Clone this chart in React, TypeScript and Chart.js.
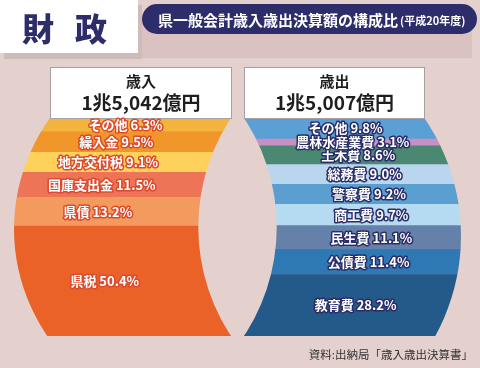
import React, { useEffect, useRef } from "react";
import { Chart, registerables } from "chart.js";

Chart.register(...registerables);

// ---- data ----
const sides = ["歳入", "歳出"];
const totals = ["1兆5,042億円", "1兆5,007億円"];
const revenueItems = ["県税", "県債", "国庫支出金", "地方交付税", "繰入金", "その他"];
const revenueShares = [50.4, 13.2, 11.5, 9.1, 9.5, 6.3];
const expenseItems = ["教育費", "公債費", "民生費", "商工費", "警察費", "総務費", "土木費", "農林水産業費", "その他"];
const expenseShares = [28.2, 11.4, 11.1, 9.7, 9.2, 9.0, 8.6, 3.1, 9.8];
const sectionTitle = ["財", "政"];
const title = "県一般会計歳入歳出決算額の構成比";
const titleNote = "(平成20年度)";
const source = "資料:出納局「歳入歳出決算書」";

// ---- styles ----
const revenueColors = ["#ea6228", "#f39a5e", "#ee7457", "#fdd15a", "#f0962a", "#f2b43c"];
const expenseColors = ["#245a8a", "#2e78b4", "#6681a9", "#b5dbf2", "#5a9fd0", "#b9d6ee", "#4b8872", "#c98fc4", "#5aa0d4"];
const BG = "#e4d0cc";
const NAVY = "#2e2d6b";
const FONT = '"Noto Sans CJK JP", "Noto Sans", sans-serif';

type Geo = ReturnType<typeof geom>;

function geom(chart: any) {
  const a = chart.chartArea;
  const H = a.bottom - a.top;
  const cx = (a.left + a.right) / 2;
  const rx = (a.right - a.left) / 2;
  const my = (a.top + a.bottom) / 2;
  const L = { cy: a.top + H * 0.509, ry: H * 0.936 };
  const R = { cy: a.top + H * 0.541, ry: H * 0.986 };
  const g = H * 0.03;
  const w = H * 0.18;
  const h = H / 2;
  const d = (g * g + h * h - w * w) / (2 * (w - g));
  const r = d + w;
  const sq = (v: number) => Math.sqrt(Math.max(0, v));
  const arcL = (y: number) => cx + d - sq(r * r - (y - my) * (y - my));
  const arcR = (y: number) => cx - d + sq(r * r - (y - my) * (y - my));
  const outL = (y: number) => cx - rx * sq(1 - ((y - L.cy) / L.ry) ** 2);
  const outR = (y: number) => cx + rx * sq(1 - ((y - R.cy) / R.ry) ** 2);
  return { a, H, cx, rx, my, L, R, d, r, arcL, arcR, outL, outR };
}

function roundRect(ctx: CanvasRenderingContext2D, x: number, y: number, w: number, h: number, rad: number) {
  ctx.beginPath();
  ctx.moveTo(x + rad, y);
  ctx.lineTo(x + w - rad, y);
  ctx.arc(x + w - rad, y + rad, rad, -Math.PI / 2, 0);
  ctx.lineTo(x + w, y + h - rad);
  ctx.arc(x + w - rad, y + h - rad, rad, 0, Math.PI / 2);
  ctx.lineTo(x + rad, y + h);
  ctx.arc(x + rad, y + h - rad, rad, Math.PI / 2, Math.PI);
  ctx.lineTo(x, y + rad);
  ctx.arc(x + rad, y + rad, rad, Math.PI, Math.PI * 1.5);
  ctx.closePath();
}

const decorPlugin = {
  id: "decor",
  beforeDraw(chart: any) {
    const ctx: CanvasRenderingContext2D = chart.ctx;
    const W = chart.width;
    ctx.save();
    ctx.fillStyle = BG;
    ctx.fillRect(0, 0, W, chart.height);
    // band behind title
    ctx.fillStyle = "#d9c2c0";
    ctx.fillRect(142, 16, 330, 42);
    // section title box with shadow
    ctx.fillStyle = "#cdbcb9";
    ctx.fillRect(4, 5, 138, 54);
    ctx.fillStyle = "#ffffff";
    ctx.fillRect(0, 0, 138, 53);
    ctx.fillStyle = NAVY;
    ctx.font = `900 32px ${FONT}`;
    ctx.textAlign = "center";
    ctx.textBaseline = "middle";
    ctx.fillText(sectionTitle[0], 38, 29);
    ctx.fillText(sectionTitle[1], 91, 29);
    // title pill
    ctx.fillStyle = NAVY;
    roundRect(ctx, 142, 4, 335, 30, 15);
    ctx.fill();
    ctx.fillStyle = "#ffffff";
    ctx.textAlign = "left";
    ctx.font = `bold 15px ${FONT}`;
    ctx.fillText(title, 158, 20);
    const tw = ctx.measureText(title).width;
    ctx.font = `bold 11px ${FONT}`;
    ctx.fillText(titleNote, 158 + tw + 2, 21);
    // source
    ctx.fillStyle = "#333333";
    ctx.font = `11.5px ${FONT}`;
    ctx.textAlign = "right";
    ctx.fillText(source, 473, 355);
    ctx.restore();
  },
  beforeDatasetsDraw(chart: any) {
    const ctx: CanvasRenderingContext2D = chart.ctx;
    const G: Geo = geom(chart);
    ctx.save();
    ctx.beginPath();
    ctx.ellipse(G.cx, G.L.cy, G.rx, G.L.ry, 0, Math.PI / 2, Math.PI * 1.5, false);
    ctx.ellipse(G.cx, G.R.cy, G.rx, G.R.ry, 0, -Math.PI / 2, Math.PI / 2, false);
    ctx.closePath();
    const s = Math.sqrt(G.r * G.r - G.d * G.d);
    const al = Math.atan2(s, G.d);
    ctx.moveTo(G.cx, G.my - s);
    ctx.arc(G.cx + G.d, G.my, G.r, Math.PI + al, Math.PI - al, true);
    ctx.arc(G.cx - G.d, G.my, G.r, al, -al, true);
    ctx.closePath();
    ctx.clip("evenodd");
  },
  afterDatasetsDraw(chart: any) {
    const ctx: CanvasRenderingContext2D = chart.ctx;
    ctx.restore();
    const G: Geo = geom(chart);
    const top = G.a.top;
    // header boxes
    const boxes = [
      [G.outL(top), G.arcL(top)],
      [G.arcR(top), G.outR(top)],
    ];
    ctx.save();
    boxes.forEach(([x0, x1], i) => {
      const x = Math.round(x0) + 0.5;
      const wd = Math.round(x1 - x0);
      ctx.fillStyle = "#ffffff";
      ctx.fillRect(x, top - 51, wd, 51);
      ctx.strokeStyle = "#a8a0a0";
      ctx.lineWidth = 1;
      ctx.strokeRect(x, top - 51 + 0.5, wd, 51);
      ctx.fillStyle = "#1e1e1e";
      ctx.textAlign = "center";
      ctx.textBaseline = "middle";
      ctx.font = `bold 15px ${FONT}`;
      ctx.fillText(sides[i], x + wd / 2, top - 37);
      ctx.font = `bold 19px ${FONT}`;
      ctx.fillText(totals[i], x + wd / 2, top - 15);
    });
    // segment labels
    ctx.font = `bold 13px ${FONT}`;
    ctx.textAlign = "center";
    ctx.textBaseline = "middle";
    ctx.lineJoin = "round";
    chart.data.datasets.forEach((ds: any, di: number) => {
      const side = ds.side;
      const meta = chart.getDatasetMeta(di);
      const el = meta.data[side];
      const v = ds.data[side];
      if (!el || v == null) return;
      const midY = (el.y + el.base) / 2;
      const x = side === 0 ? G.arcL(midY) - G.rx * 0.452 : G.arcR(midY) + G.rx * 0.425;
      const text = `${ds.label} ${v.toFixed(1)}%`;
      ctx.strokeStyle = side === 0 ? "#dc4a2c" : "#2a2d68";
      ctx.lineWidth = 3;
      ctx.strokeText(text, x, midY);
      ctx.fillStyle = "#ffffff";
      ctx.fillText(text, x, midY);
    });
    ctx.restore();
  },
};

export default function App() {
  const ref = useRef<HTMLCanvasElement | null>(null);
  useEffect(() => {
    if (!ref.current) return;
    const datasets = [
      ...revenueItems.map((name, i) => ({
        label: name,
        data: [revenueShares[i], null],
        backgroundColor: revenueColors[i],
        side: 0,
        stack: "s",
      })),
      ...expenseItems.map((name, i) => ({
        label: name,
        data: [null, expenseShares[i]],
        backgroundColor: expenseColors[i],
        side: 1,
        stack: "s",
      })),
    ];
    const chart = new Chart(ref.current, {
      type: "bar",
      data: { labels: sides, datasets: datasets as any },
      options: {
        animation: false,
        responsive: false,
        maintainAspectRatio: false,
        layout: { padding: { left: 14, right: 19, top: 118, bottom: 32 } },
        plugins: { legend: { display: false }, tooltip: { enabled: false } },
        datasets: { bar: { barPercentage: 1, categoryPercentage: 1, borderWidth: 0 } },
        scales: {
          x: { stacked: true, display: false },
          y: { stacked: true, display: false, min: 0, max: 100 },
        },
      } as any,
      plugins: [decorPlugin as any],
    });
    return () => chart.destroy();
  }, []);
  return (
    <div style={{ position: "fixed", left: 0, top: 0, width: 480, height: 368 }}>
      <canvas ref={ref} width={480} height={368} style={{ display: "block", width: 480, height: 368 }} />
    </div>
  );
}
